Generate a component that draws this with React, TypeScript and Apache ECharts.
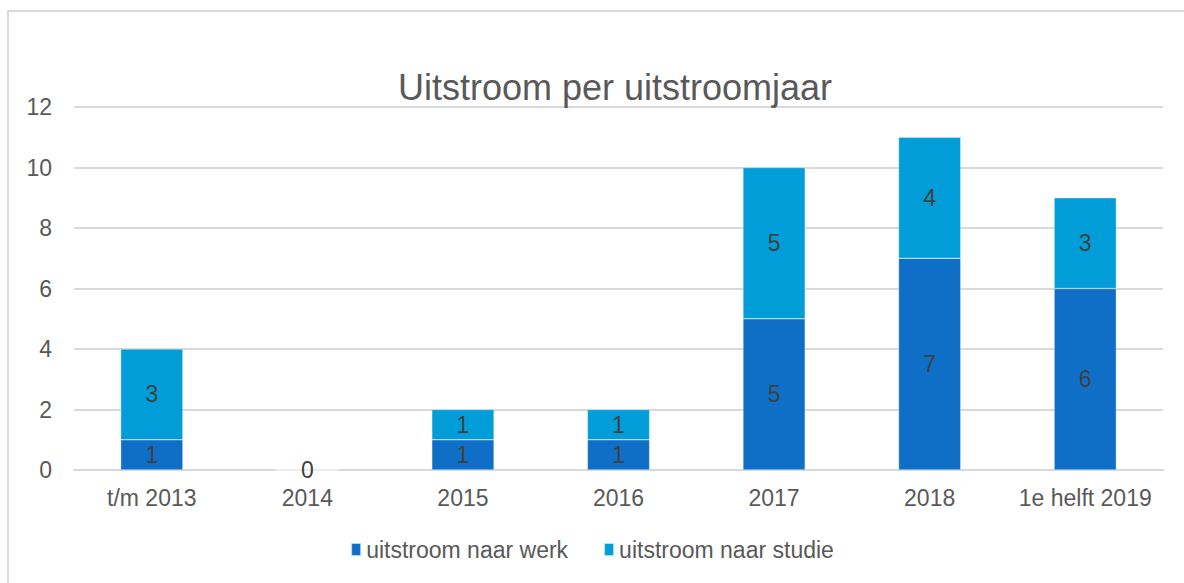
import React, { useEffect, useRef } from "react";
import * as echarts from "echarts";

const categories = ["t/m 2013", "2014", "2015", "2016", "2017", "2018", "1e helft 2019"];
const werk = [1, 0, 1, 1, 5, 7, 6];
const studie = [3, 0, 1, 1, 5, 4, 3];
const yTicks = { min: 0, max: 12, interval: 2 };

export default function App() {
  const ref = useRef<HTMLDivElement>(null);
  useEffect(() => {
    if (!ref.current) return;
    const chart = echarts.init(ref.current, null, { renderer: "svg" });
    const font = "'Liberation Sans', Arial, sans-serif";
    const labelStyle = {
      show: true,
      position: "inside" as const,
      color: "#404040",
      fontSize: 23,
      fontFamily: font,
    };
    chart.setOption({
      animation: false,
      backgroundColor: "#fff",
      textStyle: { fontFamily: font },
      graphic: [
        {
          type: "rect",
          shape: { x: 8, y: 11, width: 1200, height: 600 },
          style: { fill: "none", stroke: "#d9d9d9", lineWidth: 2 },
          silent: true,
        },
      ],
      title: {
        text: "Uitstroom per uitstroomjaar",
        left: 610,
        textAlign: "center",
        top: 64,
        textStyle: { color: "#595959", fontSize: 36, fontWeight: "normal", fontFamily: font },
      },
      legend: {
        top: 533,
        left: "center",
        itemWidth: 10,
        itemHeight: 13,
        itemGap: 35,
        icon: "rect",
        textStyle: { color: "#595959", fontSize: 23, fontFamily: font },
        data: ["uitstroom naar werk", "uitstroom naar studie"],
      },
      grid: { left: 74, right: 21, top: 107, bottom: 113 },
      xAxis: {
        type: "category",
        data: categories,
        axisLine: { show: true, lineStyle: { color: "#d9d9d9", width: 2 } },
        axisTick: { show: false },
        axisLabel: { color: "#595959", fontSize: 23, margin: 16, interval: 0, fontFamily: font },
      },
      yAxis: {
        type: "value",
        min: yTicks.min,
        max: yTicks.max,
        interval: yTicks.interval,
        axisLine: { show: false },
        axisTick: { show: false },
        splitLine: { lineStyle: { color: "#d9d9d9", width: 2 } },
        axisLabel: { color: "#595959", fontSize: 23, margin: 22, fontFamily: font },
      },
      series: [
        {
          name: "uitstroom naar werk",
          type: "bar",
          stack: "total",
          barWidth: "40%",
          itemStyle: { color: "#0F6FC6", borderColor: "rgba(255,255,255,0.7)", borderWidth: 0.5 },
          label: labelStyle,
          data: werk,
        },
        {
          name: "uitstroom naar studie",
          type: "bar",
          stack: "total",
          barWidth: "40%",
          itemStyle: { color: "#009DD9", borderColor: "rgba(255,255,255,0.7)", borderWidth: 0.5 },
          label: labelStyle,
          data: studie.map((v) => (v === 0 ? { value: v, label: { show: false } } : v)),
        },
      ],
    });
    return () => chart.dispose();
  }, []);
  return (
    <div
      ref={ref}
      style={{ position: "fixed", left: 0, top: 0, width: 1184, height: 583 }}
    />
  );
}
